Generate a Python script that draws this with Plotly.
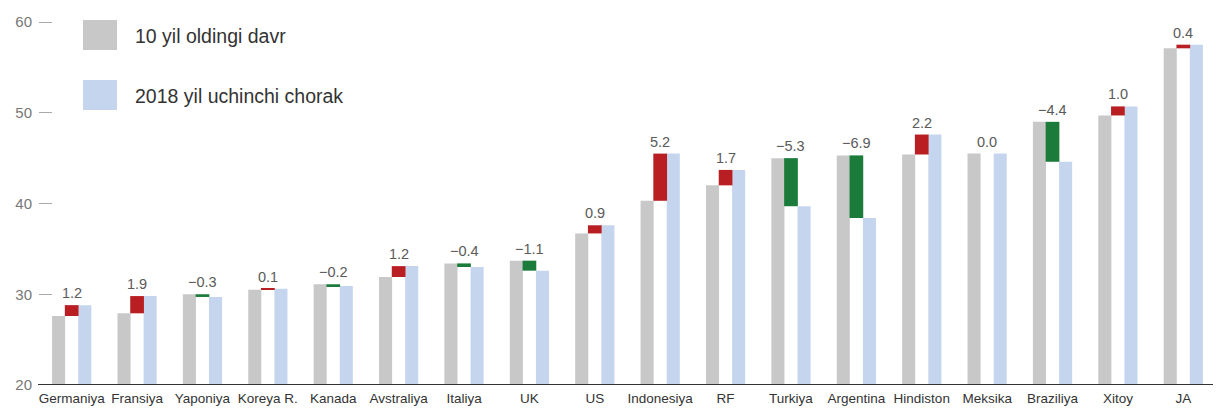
import plotly.graph_objects as go

categories = ["Germaniya", "Fransiya", "Yaponiya", "Koreya R.", "Kanada", "Avstraliya",
              "Italiya", "UK", "US", "Indonesiya", "RF", "Turkiya", "Argentina",
              "Hindiston", "Meksika", "Braziliya", "Xitoy", "JA"]
old_values = [27.6, 27.9, 30.0, 30.5, 31.1, 31.9, 33.4, 33.7, 36.7, 40.3, 42.0, 45.0,
              45.3, 45.4, 45.5, 49.0, 49.7, 57.1]
new_values = [28.8, 29.8, 29.7, 30.6, 30.9, 33.1, 33.0, 32.6, 37.6, 45.5, 43.7, 39.7,
              38.4, 47.6, 45.5, 44.6, 50.7, 57.5]
delta_labels = ["1.2", "1.9", "\u22120.3", "0.1", "\u22120.2", "1.2", "\u22120.4", "\u22121.1",
                "0.9", "5.2", "1.7", "\u22125.3", "\u22126.9", "2.2", "0.0", "\u22124.4",
                "1.0", "0.4"]
y_ticks = [20, 30, 40, 50, 60]
legend_names = ["10 yil oldingi davr", "2018 yil uchinchi chorak"]

GRAY = "#c8c8c8"
BLUE = "#c6d5ee"
RED = "#b81e22"
GREEN = "#1b7b3a"
FONT = "Liberation Sans, Arial, sans-serif"

# page is offset by the 8px body margin; figure is sized to fill the rest
W, H = 1213, 400
L, R, T, B = 31, 5, 0, 23
PW, PH = W - L - R, H - T - B
PXU = 9.075  # pixels per unit

d_base = [min(o, n) for o, n in zip(old_values, new_values)]
d_len = [abs(n - o) for o, n in zip(old_values, new_values)]
d_col = [RED if n > o else GREEN for o, n in zip(old_values, new_values)]
d_top = [max(o, n) for o, n in zip(old_values, new_values)]

fig = go.Figure()
fig.add_trace(go.Bar(x=categories, y=[o - 20 for o in old_values], base=20,
                     offset=-0.3, width=0.2, marker_color=GRAY, marker_line_width=0,
                     name=legend_names[0], showlegend=False))
fig.add_trace(go.Bar(x=categories, y=[n - 20 for n in new_values], base=20,
                     offset=0.1, width=0.2, marker_color=BLUE, marker_line_width=0,
                     name=legend_names[1], showlegend=False))
fig.add_trace(go.Bar(x=categories, y=d_len, base=d_base,
                     offset=-0.105, width=0.21, marker_color=d_col, marker_line_width=0,
                     showlegend=False))

for c, top, lab in zip(categories, d_top, delta_labels):
    fig.add_annotation(x=c, y=top, text=lab, showarrow=False, xanchor="center",
                       yanchor="bottom", yshift=2,
                       font=dict(family=FONT, size=14.5, color="#5a5a5a"))

# legend drawn manually (page coords minus 8px body offset)
for i, (name, col) in enumerate(zip(legend_names, [GRAY, BLUE])):
    top = 20 - 8 + i * 60
    fig.add_shape(type="rect", xref="paper", yref="paper",
                  x0=(83 - 8 - L) / PW, x1=(117 - 8 - L) / PW,
                  y0=1 - (top + 30 - T) / PH, y1=1 - (top - T) / PH,
                  fillcolor=col, line_width=0)
    fig.add_annotation(xref="paper", yref="paper", x=(133 - 8 - L) / PW,
                       y=1 - (top + 16 - T) / PH, text=name, showarrow=False,
                       xanchor="left", yanchor="middle",
                       font=dict(family=FONT, size=19.5, color="#333333"))

fig.add_shape(type="line", xref="paper", yref="y", x0=-1 / PW, x1=1 + 6 / PW,
              y0=20, y1=20, line=dict(color="#333333", width=2))

fig.update_layout(
    width=W, height=H,
    margin=dict(l=L, r=R, t=T, b=B, pad=0),
    plot_bgcolor="white", paper_bgcolor="white",
    barmode="overlay",
    xaxis=dict(type="category", showgrid=False, showline=False, ticks="",
               ticklabelstandoff=3,
               tickfont=dict(family=FONT, size=13.5, color="#333333"),
               range=[-0.5, 17.5]),
    yaxis=dict(range=[20, 20 + PH / PXU], tickvals=y_ticks, showgrid=False,
               zeroline=False, showline=False, ticks="inside", ticklen=13,
               tickcolor="#aaaaaa", tickwidth=1, ticklabelstandoff=6,
               tickfont=dict(family=FONT, size=15, color="#777777")),
)

fig.write_html("out.html")
